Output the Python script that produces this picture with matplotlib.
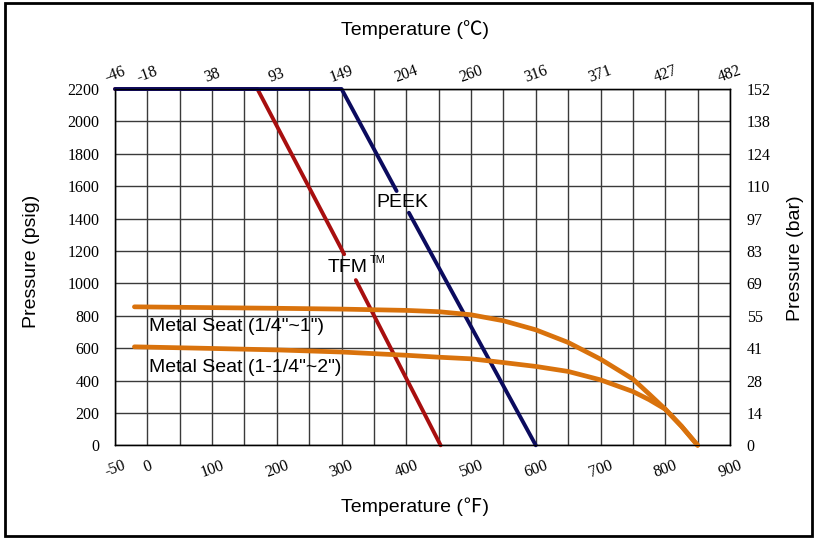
import matplotlib.pyplot as plt
import numpy as np
from matplotlib.patches import Rectangle

# Temperature (F) axis ticks, with the matching Celsius labels on top
f_ticks = [-50, 0, 100, 200, 300, 400, 500, 600, 700, 800, 900]
c_labels = ['-46', '-18', '38', '93', '149', '204', '260', '316', '371', '427', '482']

# Pressure ticks (psig) and matching bar labels
psig_ticks = [0, 200, 400, 600, 800, 1000, 1200, 1400, 1600, 1800, 2000, 2200]
bar_labels = ['0', '14', '28', '41', '55', '69', '83', '97', '110', '124', '138', '152']

# PEEK curve (two pieces, gap for the label)
peek_f1 = [-50, 300, 385]
peek_p1 = [2200, 2200, 1570]
peek_f2 = [404, 600]
peek_p2 = [1436, 0]

# TFM curve (two pieces, gap for the label)
tfm_f1 = [-50, 170, 304]
tfm_p1 = [2200, 2200, 1180]
tfm_f2 = [322, 453]
tfm_p2 = [1020, 0]

# Metal seat curves
seat_f = [-20, 100, 200, 300, 400, 450, 500, 550, 600, 650, 700, 750, 775, 800, 825, 850]
seat1_p = [855, 850, 846, 841, 833, 825, 806, 769, 713, 635, 532, 409, 317, 223, 118, 0]
seat2_p = [608, 598, 589, 576, 556, 544, 534, 511, 487, 456, 404, 332, 282, 223, 118, 0]

navy = '#0b0b5e'
red = '#a80f0f'
orange = '#d9720c'
serif = 'Liberation Serif'
sans = ['Liberation Sans', 'Noto Sans CJK SC', 'DejaVu Sans']

fig = plt.figure(figsize=(8.17, 5.38), dpi=100)
ax = fig.add_axes([115 / 817, 92.7 / 538, 615 / 817, 356.3 / 538])

# grid every 50 F and 200 psig
for xv in np.arange(-50, 901, 50):
    ax.axvline(xv, color='#3a3a3a', lw=1, zorder=1)
for yv in psig_ticks:
    ax.axhline(yv, color='#3a3a3a', lw=1, zorder=1)

style = dict(solid_capstyle='round', solid_joinstyle='round', clip_on=False)
ax.plot(tfm_f1, tfm_p1, color=red, lw=2.8, zorder=3, **style)
ax.plot(tfm_f2, tfm_p2, color=red, lw=2.8, zorder=3, **style)
ax.plot(peek_f1, peek_p1, color=navy, lw=2.8, zorder=4, **style)
ax.plot(peek_f2, peek_p2, color=navy, lw=2.8, zorder=4, **style)
ax.plot(seat_f, seat1_p, color=orange, lw=3.4, zorder=5, **style)
ax.plot(seat_f, seat2_p, color=orange, lw=3.4, zorder=5, **style)

ax.text(354, 1501, 'PEEK', fontsize=14, family=sans, va='center', ha='left', zorder=6)
ax.text(279, 1099, 'TFM', fontsize=14, family=sans, va='center', ha='left', zorder=6)
ax.text(344, 1145, 'TM', fontsize=8, family=sans, va='center', ha='left', zorder=6)
ax.text(2, 736, 'Metal Seat (1/4"~1")', fontsize=14, family=sans, va='center', ha='left', zorder=6)
ax.text(2, 483, 'Metal Seat (1-1/4"~2")', fontsize=14, family=sans, va='center', ha='left', zorder=6)

ax.set_xlim(-50, 900)
ax.set_ylim(0, 2200)
ax.set_xticks(f_ticks)
ax.set_xticklabels([str(v) for v in f_ticks], rotation=20, family=serif, fontsize=11.5)
ax.set_yticks(psig_ticks)
ax.set_yticklabels([str(v) for v in psig_ticks], family=serif, fontsize=11.5)
ax.tick_params(axis='x', length=0, pad=9)
ax.tick_params(axis='y', length=0, pad=11)
for s in ax.spines.values():
    s.set_linewidth(1)
    s.set_color('black')

# top axis: Celsius
axt = ax.twiny()
axt.set_xlim(ax.get_xlim())
axt.set_xticks(f_ticks)
axt.set_xticklabels(c_labels, rotation=20, family=serif, fontsize=11.5)
axt.tick_params(axis='x', length=0, pad=2)

# right axis: bar
axr = ax.twinx()
axr.set_ylim(ax.get_ylim())
axr.set_yticks(psig_ticks)
axr.set_yticklabels(bar_labels, family=serif, fontsize=11.5)
axr.tick_params(axis='y', length=0, pad=12)

fig.text(415 / 817, 1 - 30 / 538, 'Temperature (℃)', fontsize=14, family=sans, ha='center', va='center')
fig.text(415 / 817, 1 - 507 / 538, 'Temperature (℉)', fontsize=14, family=sans, ha='center', va='center')
fig.text(31 / 817, 1 - 261 / 538, 'Pressure (psig)', fontsize=14, family=sans, ha='center', va='center', rotation=90)
fig.text(796 / 817, 1 - 258 / 538, 'Pressure (bar)', fontsize=14, family=sans, ha='center', va='center', rotation=90)

# outer frame
fig.patches.append(Rectangle((5 / 817, 2 / 538), 807 / 817, 533 / 538, transform=fig.transFigure,
                             fill=False, edgecolor='black', lw=2))

fig.savefig('out.png', dpi=100)
